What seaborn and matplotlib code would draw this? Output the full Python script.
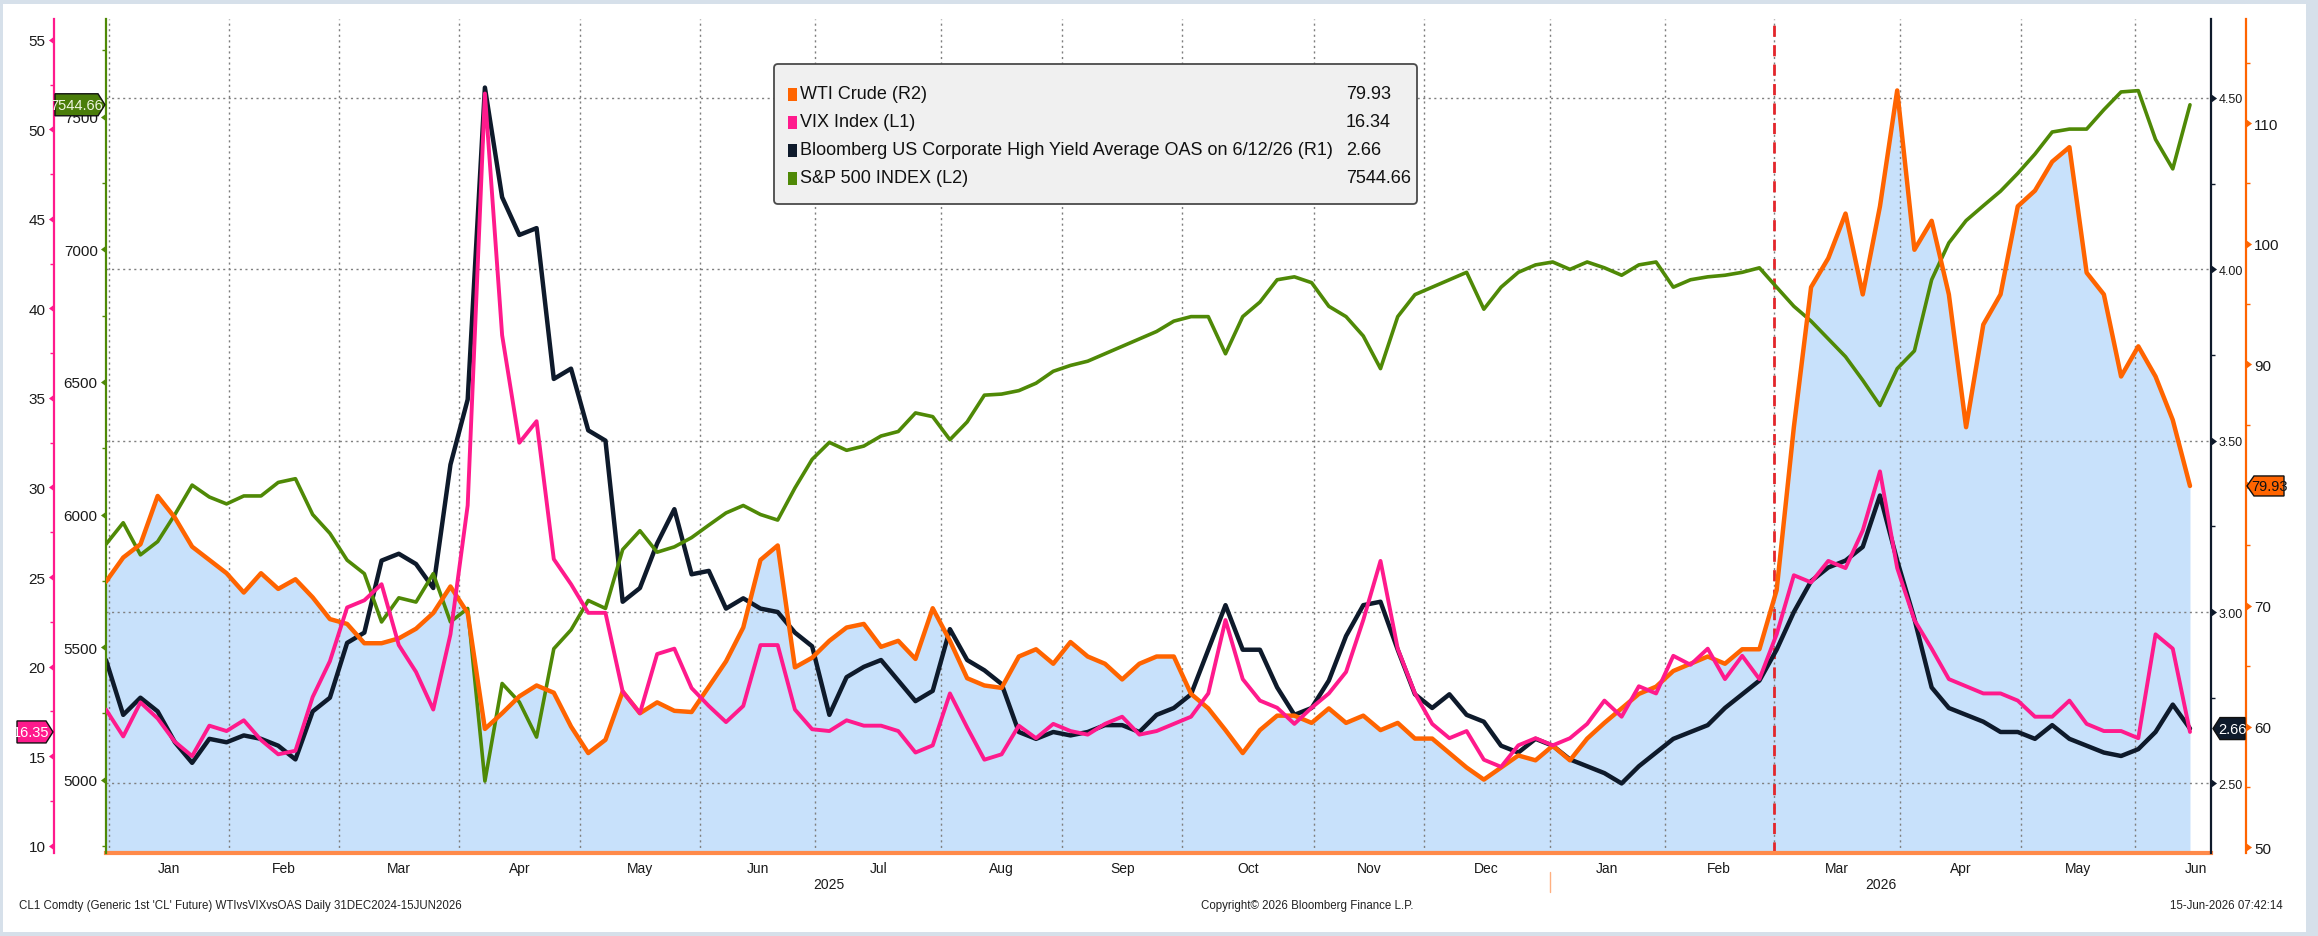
import numpy as np
import pandas as pd
import matplotlib
matplotlib.use('Agg')
import matplotlib.pyplot as plt
import matplotlib.transforms as mtransforms
from matplotlib.patches import Rectangle, Polygon, FancyBboxPatch
from matplotlib.path import Path
from matplotlib import font_manager
import seaborn as sns

# chart calendar: weekdays without the US market holidays
holidays = ['2025-01-01', '2025-01-20', '2025-02-17', '2025-04-18', '2025-05-26',
            '2025-06-19', '2025-07-04', '2025-09-01', '2025-11-27', '2025-12-25',
            '2026-01-01', '2026-01-19', '2026-02-16', '2026-04-03', '2026-05-25',
            '2026-06-19']
sessions = pd.bdate_range('2024-12-31', '2026-06-30')
sessions = sessions[~sessions.isin(pd.to_datetime(holidays))]
n_obs = int((sessions <= pd.Timestamp('2026-06-12')).sum())
sample_pos = np.arange(0, n_obs, 3)          # one reading every third session
sample_dates = sessions[sample_pos]

wti = [72.0, 74.0, 75.1, 79.1, 77.3, 74.9, 73.8, 72.7, 71.1, 72.7,
       71.4, 72.2, 70.7, 68.9, 68.5, 66.9, 66.9, 67.3, 68.1, 69.4,
       71.6, 69.4, 59.8, 61.1, 62.5, 63.4, 62.8, 60.0, 57.8, 58.9,
       62.9, 61.1, 62.0, 61.3, 61.2, 63.3, 65.4, 68.2, 73.8, 75.0,
       64.9, 65.7, 67.1, 68.2, 68.5, 66.6, 67.1, 65.6, 69.8, 67.1,
       64.0, 63.4, 63.2, 65.8, 66.4, 65.2, 67.0, 65.8, 65.2, 63.9,
       65.2, 65.8, 65.8, 62.7, 61.5, 59.7, 57.8, 59.7, 60.9, 60.9,
       60.3, 61.5, 60.3, 60.9, 59.7, 60.3, 59.0, 59.0, 57.8, 56.6,
       55.6, 56.6, 57.6, 57.2, 58.4, 57.2, 59.0, 60.3, 61.5, 62.7,
       63.3, 64.6, 65.2, 65.8, 65.2, 66.4, 66.4, 71.3, 84.8, 96.4,
       98.8, 102.5, 95.8, 103.1, 112.7, 99.5, 101.9, 95.8, 84.8, 93.3,
       95.8, 103.1, 104.4, 106.8, 108.0, 97.6, 95.8, 89.0, 91.5, 89.0,
       85.4, 79.93]
vix = [17.6, 16.1, 18.0, 17.1, 15.8, 15.0, 16.7, 16.4, 17.0, 15.9,
       15.1, 15.3, 18.3, 20.3, 23.3, 23.7, 24.6, 21.2, 19.7, 17.6,
       21.8, 29.0, 52.0, 38.5, 32.5, 33.7, 26.0, 24.6, 23.0, 23.0,
       18.6, 17.4, 20.7, 21.0, 18.8, 17.8, 16.9, 17.8, 21.2, 21.2,
       17.6, 16.5, 16.4, 17.0, 16.7, 16.7, 16.4, 15.2, 15.6, 18.5,
       16.6, 14.8, 15.1, 16.7, 16.0, 16.8, 16.4, 16.2, 16.8, 17.2,
       16.2, 16.4, 16.8, 17.2, 18.5, 22.6, 19.3, 18.1, 17.7, 16.8,
       17.7, 18.5, 19.7, 22.6, 25.9, 21.0, 18.5, 16.8, 16.0, 16.4,
       14.8, 14.4, 15.6, 16.0, 15.6, 16.0, 16.8, 18.1, 17.2, 18.9,
       18.5, 20.6, 20.1, 21.0, 19.3, 20.6, 19.3, 21.8, 25.1, 24.7,
       25.9, 25.5, 27.6, 30.9, 25.5, 22.6, 21.0, 19.3, 18.9, 18.5,
       18.5, 18.1, 17.2, 17.2, 18.1, 16.8, 16.4, 16.4, 16.0, 21.8,
       21.0, 16.35]
oas = [2.86, 2.70, 2.75, 2.71, 2.62, 2.56, 2.63, 2.62, 2.64, 2.63,
       2.61, 2.57, 2.71, 2.75, 2.91, 2.94, 3.15, 3.17, 3.14, 3.07,
       3.43, 3.62, 4.53, 4.21, 4.10, 4.12, 3.68, 3.71, 3.53, 3.50,
       3.03, 3.07, 3.20, 3.30, 3.11, 3.12, 3.01, 3.04, 3.01, 3.00,
       2.94, 2.90, 2.70, 2.81, 2.84, 2.86, 2.80, 2.74, 2.77, 2.95,
       2.86, 2.83, 2.79, 2.65, 2.63, 2.65, 2.64, 2.65, 2.67, 2.67,
       2.65, 2.70, 2.72, 2.76, 2.89, 3.02, 2.89, 2.89, 2.78, 2.70,
       2.72, 2.80, 2.93, 3.02, 3.03, 2.89, 2.76, 2.72, 2.76, 2.70,
       2.68, 2.61, 2.59, 2.63, 2.61, 2.57, 2.55, 2.53, 2.50, 2.55,
       2.59, 2.63, 2.65, 2.67, 2.72, 2.76, 2.80, 2.89, 3.00, 3.09,
       3.13, 3.15, 3.19, 3.34, 3.15, 2.98, 2.78, 2.72, 2.70, 2.68,
       2.65, 2.65, 2.63, 2.67, 2.63, 2.61, 2.59, 2.58, 2.60, 2.65,
       2.73, 2.66]
spx = [5888, 5969, 5848, 5898, 6000, 6111, 6066, 6040, 6070, 6070,
       6121, 6135, 6000, 5929, 5828, 5777, 5595, 5686, 5670, 5777,
       5595, 5646, 4995, 5363, 5293, 5161, 5494, 5565, 5676, 5646,
       5868, 5939, 5858, 5878, 5913, 5960, 6006, 6034, 6000, 5979,
       6100, 6208, 6272, 6242, 6258, 6296, 6313, 6383, 6369, 6282,
       6349, 6450, 6454, 6467, 6495, 6540, 6562, 6578, 6606, 6634,
       6662, 6690, 6729, 6746, 6746, 6606, 6746, 6801, 6885, 6896,
       6874, 6785, 6746, 6673, 6550, 6746, 6829, 6857, 6885, 6913,
       6774, 6857, 6913, 6941, 6952, 6924, 6952, 6930, 6902, 6941,
       6952, 6857, 6885, 6896, 6902, 6913, 6930, 6857, 6785, 6729,
       6662, 6595, 6506, 6411, 6550, 6617, 6885, 7024, 7108, 7164,
       7219, 7286, 7359, 7442, 7453, 7453, 7526, 7593, 7598, 7414,
       7303, 7544.66]

legend_labels = ['WTI Crude (R2)', 'VIX Index (L1)',
                 'Bloomberg US Corporate High Yield Average OAS on 6/12/26 (R1)',
                 'S&P 500 INDEX (L2)']
legend_values = ['79.93', '16.34', '2.66', '7544.66']
event_month = '2026-03'
footer_left = "CL1 Comdty (Generic 1st 'CL' Future) WTIvsVIXvsOAS Daily 31DEC2024-15JUN2026"
footer_mid = 'Copyright\u00a9 2026 Bloomberg Finance L.P.'
footer_right = '15-Jun-2026 07:42:14'

df = pd.DataFrame({'date': sample_dates, 'pos': sample_pos,
                   'wti': wti, 'vix': vix, 'oas': oas, 'spx': spx})

W, H, DPI = 2318, 937, 100
ORANGE, PINK, NAVY, GREEN = '#ff6400', '#ff1a8c', '#0e1a2b', '#4f8906'
FILL = '#c8e1fb'

sns.set_theme(style='white')
names = {f.name for f in font_manager.fontManager.ttflist}
main_font = 'Liberation Sans Narrow' if 'Liberation Sans Narrow' in names else 'Liberation Sans'
plt.rcParams['font.family'] = [main_font, 'DejaVu Sans']

ident = mtransforms.IdentityTransform()
fig = plt.figure(figsize=(W / DPI, H / DPI), dpi=DPI, facecolor='#d6e0ea')
fig.add_artist(Rectangle((3, 4), 2303, 928, transform=ident, fc='white', ec='none', zorder=-5))

x_right = 2105 / 5.741
ax_base = fig.add_axes([106 / W, 83 / H, 2105 / W, 834 / H])
ax_oas = ax_base.twinx()
ax_spx = ax_base.twinx()
ax_wti = ax_base.twinx()
ax_vix = ax_base.twinx()
ax_base.yaxis.set_visible(False)

lims = {'wti': (49.52, 118.62), 'vix': (9.59, 56.16), 'oas': (2.297, 4.73), 'spx': (4724, 7868)}

# WTI area under everything
ax_base.set_facecolor('white')
ax_base.fill_between(df['pos'], df['wti'], lims['wti'][0], color=FILL, lw=0)
ax_base.set_ylim(lims['wti'])
for s in ['top', 'left', 'right']:
    ax_base.spines[s].set_visible(False)
ax_base.spines['bottom'].set_color('#ff8a4a')
ax_base.spines['bottom'].set_linewidth(3)

sns.lineplot(data=df, x='pos', y='oas', ax=ax_oas, color=NAVY, linewidth=3.2)
sns.lineplot(data=df, x='pos', y='spx', ax=ax_spx, color=GREEN, linewidth=2.6)
sns.lineplot(data=df, x='pos', y='wti', ax=ax_wti, color=ORANGE, linewidth=3.2)
sns.lineplot(data=df, x='pos', y='vix', ax=ax_vix, color=PINK, linewidth=2.8)

tri_left = Path([(0, -0.8), (0, 0.8), (-1.1, 0), (0, -0.8)],
                [Path.MOVETO, Path.LINETO, Path.LINETO, Path.CLOSEPOLY])
tri_right = Path([(0, -0.8), (0, 0.8), (1.1, 0), (0, -0.8)],
                 [Path.MOVETO, Path.LINETO, Path.LINETO, Path.CLOSEPOLY])


def style_y(ax, side, lim, majors, minors, color, offset_px, fmt, size, pad, hide=None):
    for s in ['top', 'bottom', 'left', 'right']:
        ax.spines[s].set_visible(False)
    sp = ax.spines[side]
    sp.set_visible(True)
    sp.set_color(color)
    sp.set_linewidth(1.6)
    sp.set_position(('outward', offset_px * 72 / DPI))
    if side == 'left':
        ax.yaxis.tick_left()
    else:
        ax.yaxis.tick_right()
    ax.set_yticks(majors)
    # a label sitting under the last-value tag is hidden, as on the terminal
    ax.set_yticklabels(['' if hide is not None and abs(v - hide[0]) < hide[1] else fmt.format(v)
                        for v in majors])
    ax.set_yticks(minors, minor=True)
    ax.tick_params(axis='y', which='major', length=0, pad=pad, labelsize=size, labelcolor='#1a1a1a')
    ax.tick_params(axis='y', which='minor', length=3, width=1, color=color)
    ax.set_ylabel('')
    ax.set_xlabel('')
    xa, sign, tri = (0, -1, tri_left) if side == 'left' else (1, 1, tri_right)
    trans = ax.get_yaxis_transform() + mtransforms.ScaledTranslation(
        sign * offset_px / DPI, 0, fig.dpi_scale_trans)
    ax.plot([xa] * len(majors), majors, ls='none', marker=tri, ms=8, color=color,
            mew=0, transform=trans, clip_on=False)
    ax.set_ylim(lim)


style_y(ax_vix, 'left', lims['vix'], np.arange(10, 56, 5), np.arange(12.5, 56, 5),
        PINK, 52, '{:.0f}', 11, 6)
style_y(ax_spx, 'left', lims['spx'], np.arange(5000, 7501, 500), np.arange(4750, 7800, 500),
        GREEN, 0, '{:.0f}', 11, 6)
style_y(ax_oas, 'right', lims['oas'], np.arange(2.5, 4.51, 0.5), np.arange(2.75, 4.5, 0.5),
        NAVY, 0, '{:.2f}', 9, 5.5)
style_y(ax_wti, 'right', lims['wti'], np.arange(50, 111, 10), np.arange(55, 116, 10),
        ORANGE, 35, '{:.0f}', 11, 6, hide=(wti[-1], 2.5))

ax_oas.set_axisbelow(True)
ax_oas.grid(True, axis='y', which='major', ls=(0, (1.5, 2.5)), color='#7f7f7f', lw=1)

# month axis on the base axes
sess = pd.Series(np.arange(len(sessions)), index=sessions)
per = sessions.to_period('M')
m_first = sess.groupby(per).min()
m_last = sess.groupby(per).max()
months = m_first.index[1:]
bounds = (m_first.iloc[1:] - 0.5).values
centers = ((m_first.iloc[1:] + m_last.iloc[1:]) / 2).values
ax_base.set_xticks(bounds, labels=[''] * len(bounds))
ax_base.set_xticks(centers, labels=[m.strftime('%b') for m in months], minor=True)
ax_base.tick_params(axis='x', which='major', length=4, width=1.2, color=ORANGE, direction='out')
ax_base.tick_params(axis='x', which='minor', length=0, pad=6, labelsize=10, labelcolor='#1a1a1a')
ax_base.set_axisbelow('line')
ax_base.grid(True, axis='x', which='major', ls=(0, (1.5, 2.5)), color='#7f7f7f', lw=1)
ax_base.set_xlabel('')

for yr in sorted(set(m.year for m in months)):
    sel = [i for i, m in enumerate(months) if m.year == yr]
    left = max(0, m_first.iloc[1:].iloc[sel[0]] - 0.5)
    right = min(x_right, m_last.iloc[1:].iloc[sel[-1]] + 0.5)
    ax_base.annotate(str(yr), xy=((left + right) / 2, 0), xycoords=('data', 'axes fraction'),
                     xytext=(0, -31), textcoords='offset pixels', ha='center', va='center',
                     fontsize=10, color='#1a1a1a', annotation_clip=False)
    if yr > months[0].year:
        xb = m_first.iloc[1:].iloc[sel[0]] - 0.5
        ax_base.plot([xb, xb], [-19 / 834, -39 / 834], transform=ax_base.get_xaxis_transform(),
                     color='#ffb080', lw=1, clip_on=False)

ev = m_first[pd.Period(event_month, 'M')] - 0.5
ax_base.axvline(ev, color='#e3262b', ls=(0, (4, 3)), lw=2)

for ax in [ax_base, ax_oas, ax_spx, ax_wti, ax_vix]:
    ax.set_xlim(0, x_right)
for ax, key in [(ax_base, 'wti'), (ax_oas, 'oas'), (ax_spx, 'spx'), (ax_wti, 'wti'), (ax_vix, 'vix')]:
    ax.set_ylim(lims[key])


def tag(ax, value, text, x0, x1, point, fc, tc, h=22):
    yd = ax.transData.transform((0, value))[1]
    tip = 7
    if point == 'right':
        verts = [(x0, yd - h / 2), (x1 - tip, yd - h / 2), (x1, yd), (x1 - tip, yd + h / 2), (x0, yd + h / 2)]
        cx = (x0 + x1 - tip) / 2
    else:
        verts = [(x0, yd), (x0 + tip, yd - h / 2), (x1, yd - h / 2), (x1, yd + h / 2), (x0 + tip, yd + h / 2)]
        cx = (x0 + tip + x1) / 2
    fig.add_artist(Polygon(verts, closed=True, transform=ident, fc=fc, ec='#111111', lw=1, zorder=5))
    fig.text(cx, yd, text, transform=ident, ha='center', va='center', color=tc, fontsize=10.5, zorder=6)


tag(ax_spx, spx[-1], f'{spx[-1]:.2f}', 55, 105, 'right', '#4a7d0a', '#eef5e0')
tag(ax_vix, vix[-1], f'{vix[-1]:.2f}', 17, 53, 'right', PINK, 'white')
tag(ax_oas, oas[-1], f'{oas[-1]:.2f}', 2213, 2245, 'left', NAVY, 'white')
tag(ax_wti, wti[-1], f'{wti[-1]:.2f}', 2247, 2284, 'left', ORANGE, '#111111', h=20)

# legend box
lx0, ly0, lx1, ly1 = 774, 65, 1417, 205
fig.add_artist(FancyBboxPatch((lx0, H - ly1), lx1 - lx0, ly1 - ly0,
                              boxstyle='round,pad=0,rounding_size=4', transform=ident,
                              fc='#f0f0f0', ec='#4a4a4a', lw=1.3, zorder=5))
renderer = fig.canvas.get_renderer()
for label, val, col, yy in zip(legend_labels, legend_values, [ORANGE, PINK, NAVY, GREEN], [95, 123, 151, 179]):
    fig.add_artist(Rectangle((788, H - yy - 6.5), 9, 13, transform=ident, fc=col, ec='none', zorder=6))
    t = fig.text(800, H - yy, label, transform=ident, ha='left', va='center',
                 fontsize=13, color='#111111', zorder=6)
    x_end = t.get_window_extent(renderer).x1
    fig.text(max(1346, x_end + 5), H - yy, val, transform=ident, ha='left', va='center',
             fontsize=13, color='#111111', zorder=6)

fig.text(19, H - 906, footer_left, transform=ident, ha='left', va='center', fontsize=8.3, color='#222222')
fig.text(1307, H - 906, footer_mid, transform=ident, ha='center', va='center', fontsize=8.3, color='#222222')
fig.text(2283, H - 906, footer_right, transform=ident, ha='right', va='center', fontsize=8.3, color='#222222')

fig.savefig('out.png', dpi=DPI, facecolor=fig.get_facecolor())
